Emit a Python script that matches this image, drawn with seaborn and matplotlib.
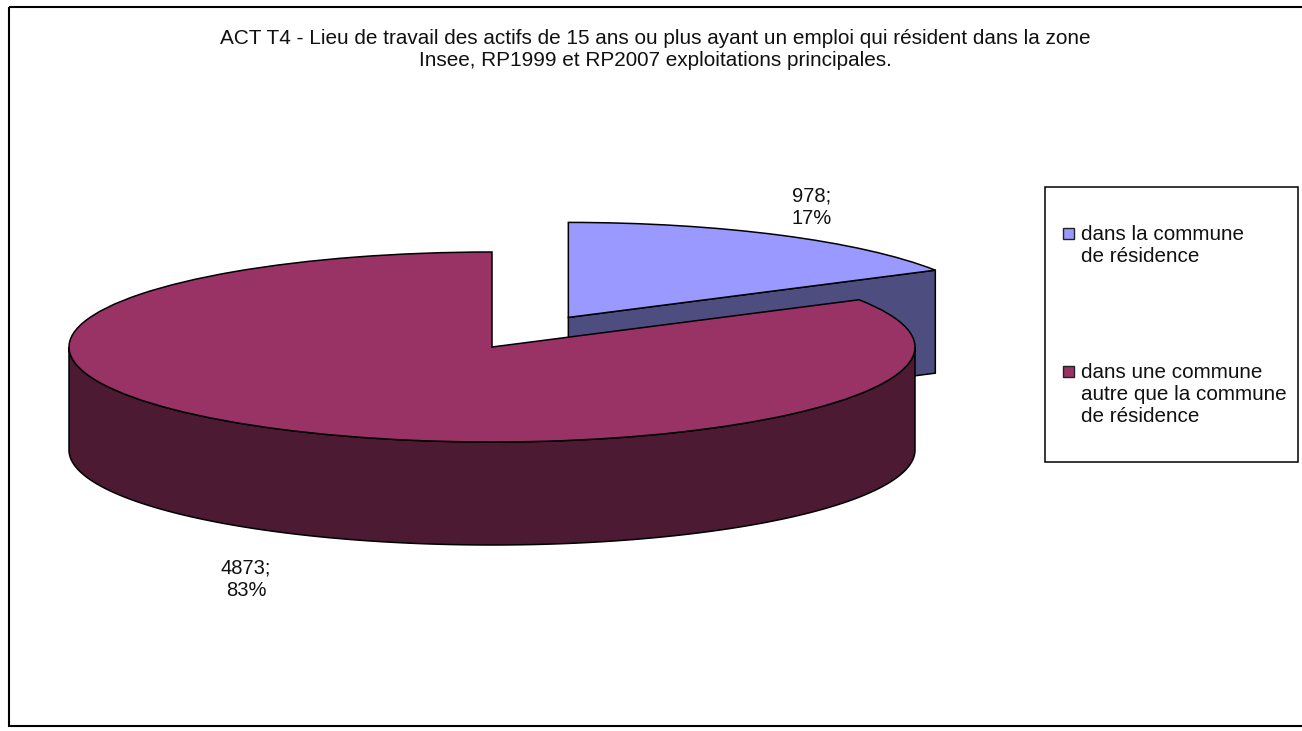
import matplotlib

matplotlib.use("Agg")

import matplotlib.pyplot as plt
import numpy as np
import seaborn as sns
from matplotlib.patches import Rectangle

# values
categories = [
    "dans la commune\nde résidence",
    "dans une commune\nautre que la commune\nde résidence",
]
values = [978, 4873]
percents = [17, 83]
title = (
    "ACT T4 - Lieu de travail des actifs de 15 ans ou plus ayant un emploi "
    "qui résident dans la zone\n"
    "Insee, RP1999 et RP2007 exploitations principales."
)

top_colors = ["#9999FF", "#993366"]
side_colors = ["#4D4D80", "#4D1A33"]
EDGE = "#000000"
WIDTH, HEIGHT = 1302, 731
# pie ellipse in pixels
CX, CY, RX, RY = 492, 347, 423, 95
DEPTH = 103 / RY
EXPLODE = 0.36

sns.set_theme(style="white")
plt.rcParams["font.family"] = ["Liberation Sans", "DejaVu Sans"]

figure = plt.figure(figsize=(WIDTH / 100, HEIGHT / 100), dpi=100, facecolor="white")
axis = figure.add_axes([0, 0, 1, 1])

wedges, _ = axis.pie(
    values,
    colors=top_colors,
    startangle=90,
    counterclock=False,
    explode=[EXPLODE, 0],
    wedgeprops={"edgecolor": EDGE, "linewidth": 1.1, "zorder": 5},
)
wedges[0].set_zorder(2)
wedges[1].set_zorder(5)
axis.set_aspect("auto")
axis.set_xlim(-CX / RX, (WIDTH - CX) / RX)
axis.set_ylim((CY - HEIGHT) / RY, CY / RY)

# walls of the slices, hanging below the pie faces
split = 2 * np.pi * values[0] / sum(values)
shift_x = EXPLODE * np.sin(split / 2)
shift_y = EXPLODE * np.cos(split / 2)
cut_x = [shift_x, shift_x + np.sin(split), shift_x + np.sin(split), shift_x]
cut_y = [
    shift_y,
    shift_y + np.cos(split),
    shift_y + np.cos(split) - DEPTH,
    shift_y - DEPTH,
]
axis.fill(cut_x, cut_y, facecolor=side_colors[0], edgecolor=EDGE, linewidth=1.1, zorder=1)

theta = np.linspace(np.pi / 2, 3 * np.pi / 2, 200)
rim_x = np.sin(theta)
rim_y = np.cos(theta)
axis.fill(
    np.r_[rim_x, rim_x[::-1]],
    np.r_[rim_y, rim_y[::-1] - DEPTH],
    facecolor=side_colors[1],
    edgecolor=EDGE,
    linewidth=1.1,
    zorder=4,
)

# overlay in pixel coordinates for the frame, title and legend
overlay = figure.add_axes([0, 0, 1, 1], facecolor="none")
overlay.set_xlim(0, WIDTH)
overlay.set_ylim(HEIGHT, 0)
overlay.axis("off")
overlay.add_patch(Rectangle((9, 7), 1300, 719, fill=False, edgecolor=EDGE, linewidth=1.5))
overlay.text(655.5, 50, title, ha="center", va="center", fontsize=14.95, linespacing=1.2, color="#111111")

overlay.text(
    812, 207, f"{values[0]};\n{percents[0]}%",
    ha="center", va="center", fontsize=14.5, linespacing=1.22, color="#111111",
)
overlay.text(
    246, 579, f"{values[1]};\n{percents[1]}%",
    ha="center", va="center", fontsize=14.5, linespacing=1.22, color="#111111",
)

overlay.add_patch(Rectangle((1045, 187), 253, 275, facecolor="white", edgecolor=EDGE, linewidth=1.1))
for label, color, top in zip(categories, top_colors, [233.5, 371.5]):
    overlay.add_patch(Rectangle((1063, top - 5.5), 11, 11, facecolor=color, edgecolor="#222222", linewidth=1))
    overlay.text(1081, top - 8.5, label, ha="left", va="top", fontsize=14.9, linespacing=1.21, color="#111111")

figure.savefig("out.png", dpi=100)
plt.close(figure)
